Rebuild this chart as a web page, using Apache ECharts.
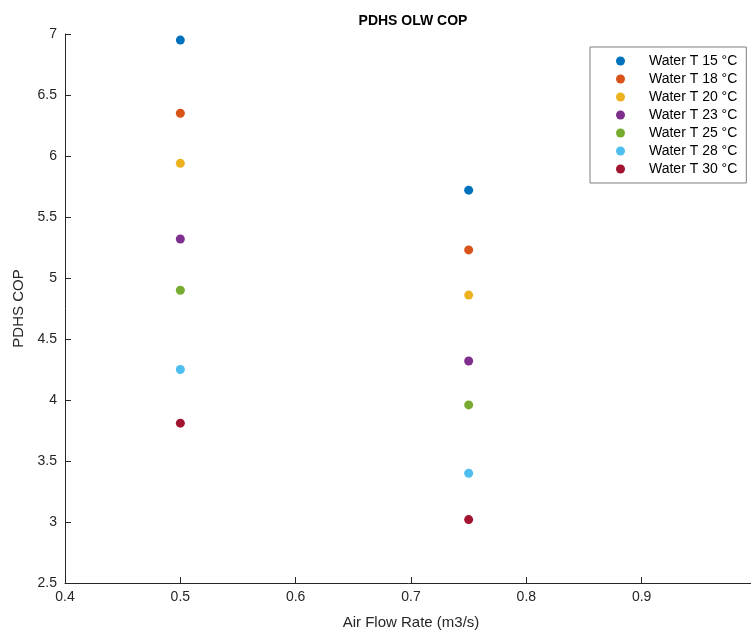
<!DOCTYPE html>
<html>
<head>
<meta charset="utf-8">
<script src="https://cdn.jsdelivr.net/npm/echarts@6/dist/echarts.min.js"></script>
<style>
  html, body { margin: 0; padding: 0; background: #fff; }
  #chart { width: 751px; height: 633px; }
</style>
</head>
<body>
<div id="chart"></div>
<script>
// air flow rates (m3/s)
const airFlow = [0.5, 0.75, 1.0];
// series names
const seriesNames = ['Water T 15 °C', 'Water T 18 °C', 'Water T 20 °C', 'Water T 23 °C',
                     'Water T 25 °C', 'Water T 28 °C', 'Water T 30 °C'];
// COP values per water temperature, one per air flow rate
const cop15 = [6.95, 5.72, 4.92];
const cop18 = [6.35, 5.23, 4.43];
const cop20 = [5.94, 4.86, 4.15];
const cop23 = [5.32, 4.32, 3.68];
const cop25 = [4.90, 3.96, 3.37];
const cop28 = [4.25, 3.40, 2.87];
const cop30 = [3.81, 3.02, 2.55];
const copAll = [cop15, cop18, cop20, cop23, cop25, cop28, cop30];

const colors = ['#0072BD', '#D95319', '#EDB120', '#7E2F8E', '#77AC30', '#4DBEEE', '#A2142F'];
const font = 'Liberation Sans, Arial, Helvetica, sans-serif';
const axisColor = '#262626';

const series = seriesNames.map((name, i) => ({
    name: name,
    type: 'scatter',
    symbol: 'circle',
    symbolSize: 9,
    clip: true,
    itemStyle: { color: colors[i], opacity: 1 },
    data: airFlow.map((x, j) => [x, copAll[i][j]])
}));

const chart = echarts.init(document.getElementById('chart'));
chart.setOption({
    animation: false,
    color: colors,
    title: {
        text: 'PDHS OLW COP',
        left: 408,
        top: 9,
        textAlign: 'center',
        textStyle: { fontFamily: font, fontSize: 14, fontWeight: 'bold', color: '#000' }
    },
    legend: {
        orient: 'vertical',
        left: 590,
        top: 47,
        padding: [5, 9, 5, 26],
        itemGap: 0,
        itemWidth: 9,
        itemHeight: 9,
        icon: 'circle',
        borderColor: '#7f7f7f',
        borderWidth: 1,
        backgroundColor: '#fff',
        data: seriesNames,
        itemStyle: { opacity: 1 },
        textStyle: { fontFamily: font, fontSize: 14, color: '#000', lineHeight: 18, padding: [0, 0, 0, 19] }
    },
    grid: { left: 65, top: 34, right: -6, bottom: 50, outerBoundsMode: 'none' },
    xAxis: {
        type: 'value',
        min: 0.4,
        max: 1.0,
        interval: 0.1,
        name: 'Air Flow Rate (m3/s)',
        nameLocation: 'middle',
        nameGap: 32,
        nameTextStyle: { fontFamily: font, fontSize: 15, color: axisColor },
        axisLine: { lineStyle: { color: axisColor, width: 1 } },
        axisTick: { inside: true, length: 6, lineStyle: { color: axisColor } },
        axisLabel: {
            fontFamily: font, fontSize: 14, color: axisColor, margin: 7,
            formatter: v => +v.toFixed(1) + ''
        },
        splitLine: { show: false }
    },
    yAxis: {
        type: 'value',
        min: 2.5,
        max: 7,
        interval: 0.5,
        name: 'PDHS COP',
        nameLocation: 'middle',
        nameGap: 30,
        nameTextStyle: { fontFamily: font, fontSize: 15, color: axisColor },
        axisLine: { show: true, lineStyle: { color: axisColor, width: 1 } },
        axisTick: { show: true, inside: true, length: 6, lineStyle: { color: axisColor } },
        axisLabel: { fontFamily: font, fontSize: 14, color: axisColor, margin: 8 },
        splitLine: { show: false }
    },
    series: series
});
</script>
</body>
</html>
